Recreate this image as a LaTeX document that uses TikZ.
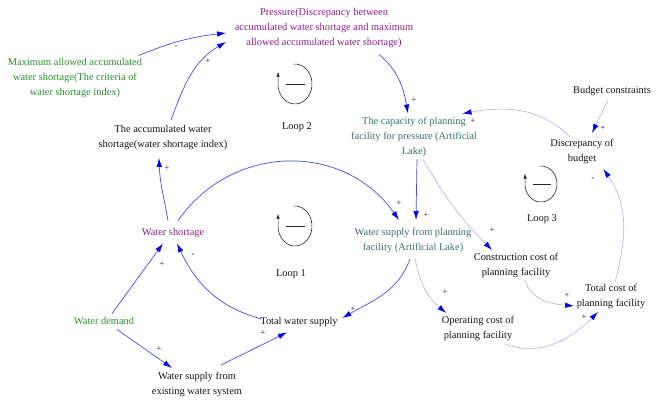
\documentclass[tikz,border=0pt]{standalone}
\usepackage{fontspec}
\setmainfont{Liberation Serif}
\usetikzlibrary{arrows.meta}
\definecolor{cpurple}{RGB}{140,30,135}
\definecolor{cgreen}{RGB}{45,140,45}
\definecolor{cteal}{RGB}{50,115,110}
\definecolor{clink}{RGB}{75,75,225}
\definecolor{clight}{RGB}{175,175,230}
\definecolor{ctip}{RGB}{0,0,245}
\definecolor{ctext}{RGB}{20,20,20}
\begin{document}
\begin{tikzpicture}[x=1pt,y=-1pt,
  txt/.style={align=center,font=\fontsize{10.4}{15}\selectfont,inner sep=1.5pt,text=ctext},
  purp/.style={txt,text=cpurple},
  grn/.style={txt,text=cgreen},
  tealtxt/.style={txt,text=cteal},
  sgn/.style={font=\fontsize{8.5}{8.5}\selectfont,inner sep=0pt,text=ctext},
  mainlink/.style={draw=clink,line width=0.7pt,-{Latex[length=9pt,width=5.5pt,color=ctip]}},
  lightlink/.style={draw=clight,line width=0.6pt,-{Latex[length=9pt,width=5.5pt,color=ctip]}},
  loopline/.style={line width=0.6pt,draw=black!85}]
\useasboundingbox (0,0) rectangle (663,401);

% variables
\node[purp] (P) at (324,28) {Pressure(Discrepancy between\\accumulated water shortage and maximum\\allowed accumulated water shortage)};
\node[grn] (M) at (75,78) {Maximum allowed accumulated\\water shortage(The criteria of\\water shortage index)};
\node[txt] (A) at (163,138) {The accumulated water\\shortage(water shortage index)};
\node[purp] (WS) at (173,233) {Water shortage};
\node[grn] (WD) at (104,321) {Water demand};
\node[txt] (TWS) at (299,322) {Total water supply};
\node[txt] (WSE) at (197,384) {Water supply from\\existing water system};
\node[tealtxt] (CAP) at (414,137) {The capacity of planning\\facility for pressure (Artificial\\Lake)};
\node[tealtxt] (WSP) at (413,240) {Water supply from planning\\facility (Artificial Lake)};
\node[txt] (BC) at (612,91) {Budget constraints};
\node[txt] (DB) at (582,151) {Discrepancy of\\budget};
\node[txt] (CC) at (516,265) {Construction cost of\\planning facility};
\node[txt] (TC) at (611,296) {Total cost of\\planning facility};
\node[txt] (OC) at (478,328) {Operating cost of\\planning facility};

% loop labels
\node[txt] (L2t) at (297,127) {Loop 2};
\node[txt] (L1t) at (291,274) {Loop 1};
\node[txt] (L3t) at (542,219) {Loop 3};

% loop symbols
\coordinate (L2) at (295,84);
\coordinate (L1) at (295,226);
\coordinate (L3) at (541,184);
\draw[loopline,-{Latex[length=5pt,width=3.5pt]}] ([shift={(95:17pt and 20pt)}]L2) arc[start angle=95,end angle=-175,x radius=17pt,y radius=20pt] -- ++(0,-14);
\draw[loopline] ([xshift=-9pt]L2) -- ([xshift=10pt]L2);
\draw[loopline,-{Latex[length=5pt,width=3.5pt]}] ([shift={(95:17pt and 20pt)}]L1) arc[start angle=95,end angle=-175,x radius=17pt,y radius=20pt] -- ++(0,-14);
\draw[loopline] ([xshift=-9pt]L1) -- ([xshift=10pt]L1);
\draw[loopline,-{Latex[length=5pt,width=3.5pt]}] ([shift={(95:16pt and 18pt)}]L3) arc[start angle=95,end angle=-175,x radius=16pt,y radius=18pt] -- ++(0,-12);
\draw[loopline] ([xshift=-8pt]L3) -- ([xshift=10pt]L3);

% main links
\draw[mainlink] ([shift={(-5,-1)}]M.north east) to[bend left=8] ([shift={(-7,5)}]P.west);
\draw[mainlink] ([shift={(8,-4)}]A.north) to[out=70,in=210] ([shift={(-7,14)}]P.west);
\draw[mainlink] ([shift={(-36,5)}]P.south east) to[out=-40,in=100] ([shift={(-6,-2)}]CAP.north);
\draw[mainlink] ([shift={(-5,-6)}]WS.north) to[out=100,in=-88] ([shift={(-4,6)}]A.south);
\draw[mainlink] ([shift={(5,-6)}]WS.north) to[out=55,in=125,looseness=1.1] ([shift={(-14,-6)}]WSP.north);
\draw[mainlink] ([shift={(3,1)}]CAP.south) -- ([shift={(3,-6)}]WSP.north);
\draw[mainlink] ([shift={(8,-2)}]WD.north) -- ([shift={(-10,4)}]WS.south);
\draw[mainlink] ([shift={(3,-3)}]TWS.west) to[out=165,in=-65] ([shift={(4,4)}]WS.south);
\draw[mainlink] ([shift={(13,3)}]WD.south) -- ([shift={(-25,-2)}]WSE.north);
\draw[mainlink] ([shift={(24,-5)}]WSE.north) -- ([shift={(-12,4)}]TWS.south);
\draw[mainlink] ([shift={(-3,5)}]WSP.south) to[out=-110,in=30] ([shift={(3,-4)}]TWS.east);

% light links
\draw[lightlink] ([shift={(9,1)}]CAP.south) to[out=-60,in=135] ([shift={(20,-1)}]CC.north west);
\draw[lightlink] ([shift={(2,4)}]WSP.south) to[out=-80,in=140] ([shift={(6,-1)}]OC.north west);
\draw[lightlink] ([shift={(9,1)}]CC.south) to[out=-75,in=175] ([shift={(-1,10)}]TC.west);
\draw[lightlink] ([shift={(-11,2)}]OC.south east) to[out=-20,in=-135] ([shift={(-13,2)}]TC.south);
\draw[lightlink] ([shift={(4,0)}]TC.north) to[out=75,in=-55] ([shift={(-12,4)}]DB.south east);
\draw[lightlink] ([shift={(-12,0)}]DB.north) to[out=135,in=10] ([shift={(-16,-2)}]CAP.north east);
\draw[lightlink] ([shift={(-4,3)}]BC.south) -- ([shift={(10,-4)}]DB.north);

% polarity signs
\node[sgn] (s1) at (176,47) {-};
\node[sgn] (s2) at (208,61) {+};
\node[sgn] (s3) at (414,100) {+};
\node[sgn] (s4) at (167,168) {+};
\node[sgn] (s5) at (399,203) {+};
\node[sgn] (s6) at (426,215) {+};
\node[sgn] (s7) at (162,264) {+};
\node[sgn] (s8) at (193,255) {\textbf{-}};
\node[sgn] (s9) at (159,349) {+};
\node[sgn] (s10) at (263,333) {+};
\node[sgn] (s11) at (353,309) {+};
\node[sgn] (s12) at (492,230) {+};
\node[sgn] (s13) at (445,292) {+};
\node[sgn] (s14) at (567,295) {+};
\node[sgn] (s15) at (584,317) {+};
\node[sgn] (s16) at (593,179) {-};
\node[sgn] (s17) at (473,121) {+};
\node[sgn] (s18) at (603,128) {+};
\end{tikzpicture}
\end{document}
